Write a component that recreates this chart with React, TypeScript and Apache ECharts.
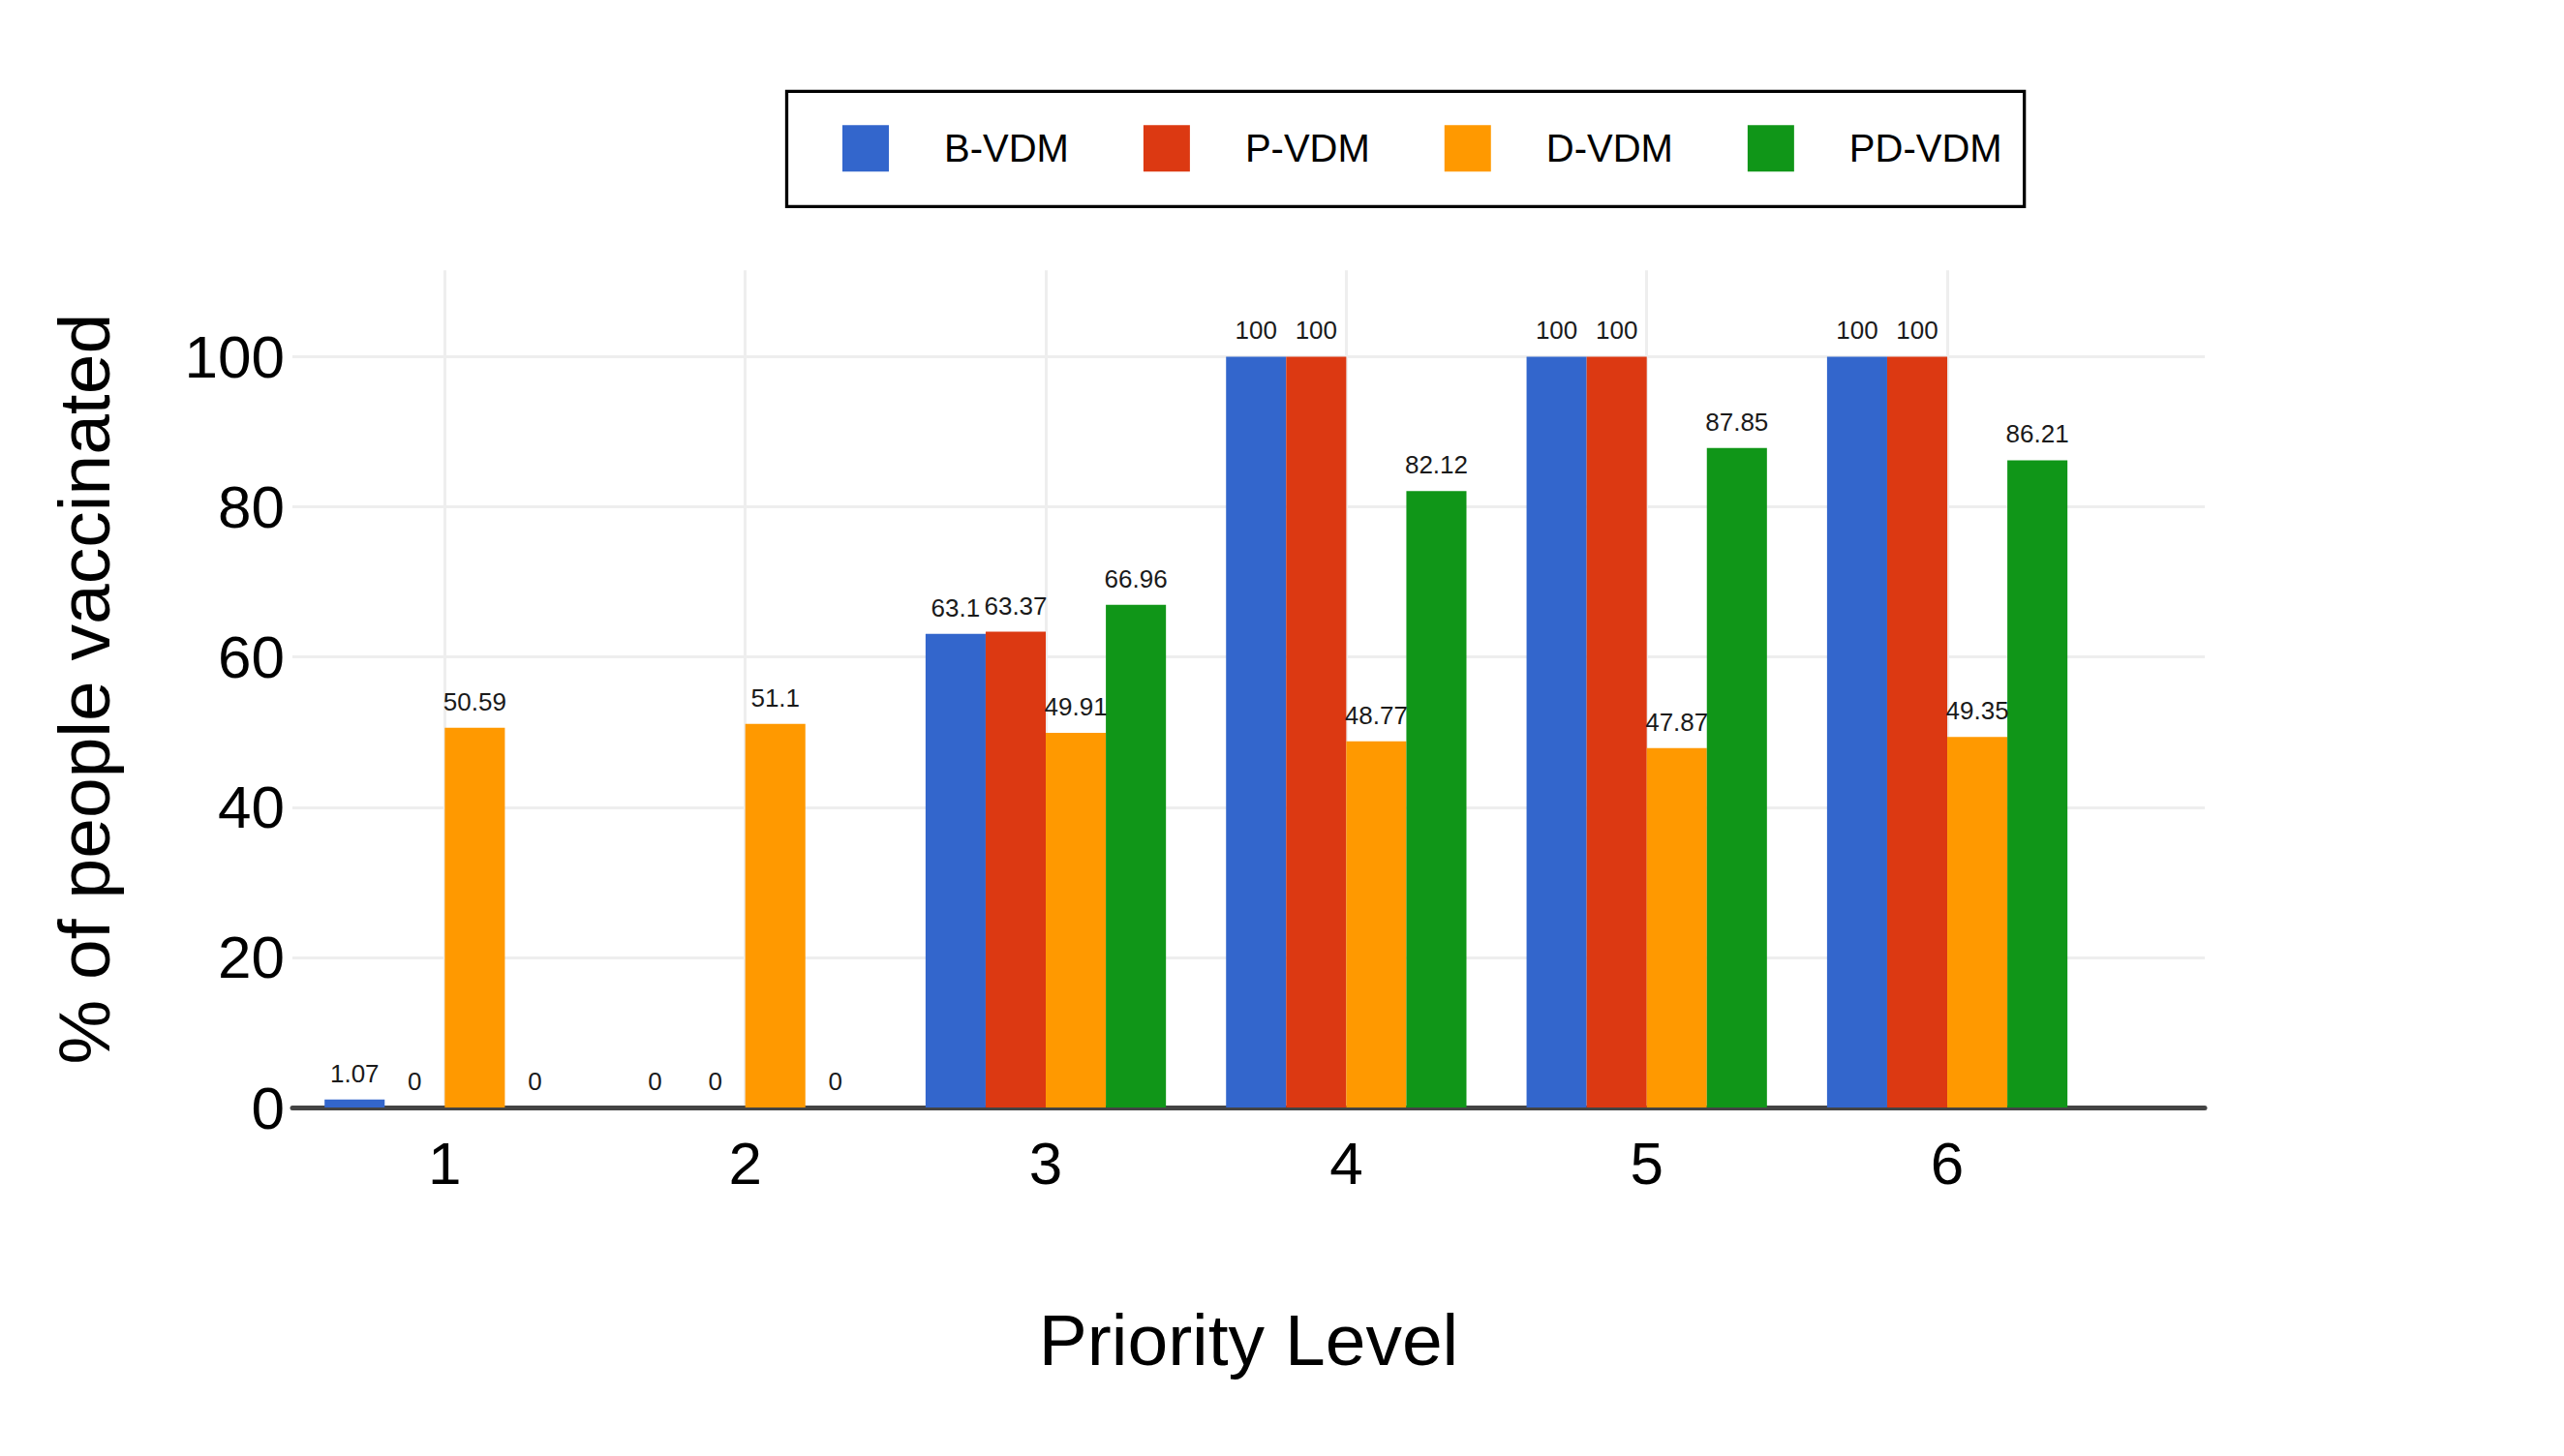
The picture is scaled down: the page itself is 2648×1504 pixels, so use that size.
import React, { useEffect, useRef } from "react";
import * as echarts from "echarts";

const categories = [1, 2, 3, 4, 5, 6];
const seriesNames = ["B-VDM", "P-VDM", "D-VDM", "PD-VDM"];
const bVdm = [1.07, 0, 63.1, 100, 100, 100];
const pVdm = [0, 0, 63.37, 100, 100, 100];
const dVdm = [50.59, 51.1, 49.91, 48.77, 47.87, 49.35];
const pdVdm = [0, 0, 66.96, 82.12, 87.85, 86.21];
const yTicks = [0, 20, 40, 60, 80, 100];
const colors = ["#3366CC", "#DC3912", "#FF9900", "#109618"];

const FONT = "'Liberation Sans', Arial, sans-serif";

export default function App() {
  const ref = useRef<HTMLDivElement>(null);
  useEffect(() => {
    if (!ref.current) return;
    const chart = echarts.init(ref.current, null, { renderer: "svg" });
    const allValues = [bVdm, pVdm, dVdm, pdVdm];
    const series = seriesNames.map((name, i) => ({
      name,
      type: "bar",
      data: categories.map((c, j) => [c, allValues[i][j]]),
      barGap: "0%",
      barCategoryGap: "20%",
      itemStyle: { color: colors[i] },
      label: {
        show: true,
        position: "top",
        distance: 14,
        fontSize: 26,
        fontFamily: FONT,
        color: "#1a1a1a",
        formatter: (p: any) => String(p.value[1]),
      },
    }));
    chart.setOption({
      animation: false,
      backgroundColor: "#ffffff",
      textStyle: { fontFamily: FONT },
      legend: {
        data: seriesNames,
        left: 812.5,
        top: 94.3,
        orient: "horizontal",
        icon: "rect",
        itemWidth: 48,
        itemHeight: 48,
        itemGap: 77,
        padding: [35, 23, 36, 57.5],
        borderColor: "#000",
        borderWidth: 3.3,
        textStyle: { fontSize: 40, color: "#000", fontFamily: FONT, padding: [0, 0, 0, 52] },
      },
      grid: {
        left: 302,
        right: 371,
        top: 279.3,
        bottom: 360,
        containLabel: false,
        outerBoundsMode: "none",
      },
      xAxis: {
        type: "value",
        min: 0.493,
        max: 6.857,
        name: "Priority Level",
        nameLocation: "middle",
        nameGap: 202,
        nameTextStyle: { fontSize: 75, color: "#000", fontFamily: FONT },
        axisLine: { show: true, onZero: false, lineStyle: { color: "#444", width: 5 } },
        axisTick: { show: false, customValues: categories },
        axisLabel: {
          customValues: categories,
          fontSize: 62,
          color: "#000",
          margin: 26,
          fontFamily: FONT,
          formatter: (v: number) => String(v),
        },
        splitLine: { show: true, lineStyle: { color: "#eeeeee", width: 3 } },
      },
      yAxis: {
        type: "value",
        min: 0,
        max: 111.5,
        name: "% of people vaccinated",
        nameLocation: "middle",
        nameGap: 178,
        nameTextStyle: { fontSize: 75, color: "#000", fontFamily: FONT },
        axisLine: { show: false },
        axisTick: { show: false, customValues: yTicks },
        axisLabel: {
          customValues: yTicks,
          fontSize: 62,
          color: "#000",
          margin: 8,
          fontFamily: FONT,
        },
        splitLine: { show: true, lineStyle: { color: "#eeeeee", width: 3 } },
      },
      series,
    });
    return () => chart.dispose();
  }, []);
  return (
    <div
      ref={ref}
      style={{ position: "fixed", left: 0, top: 0, width: 2648, height: 1504, background: "#fff" }}
    />
  );
}
